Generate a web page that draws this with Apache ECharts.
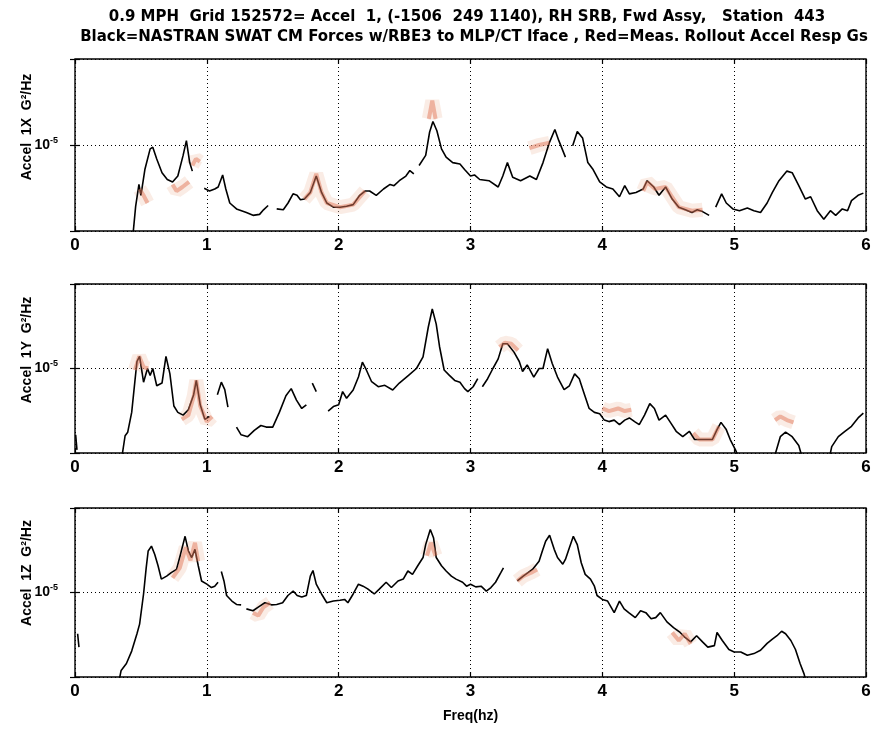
<!DOCTYPE html>
<html><head><meta charset="utf-8">
<script src="https://cdn.jsdelivr.net/npm/echarts@6/dist/echarts.min.js"></script>
<style>html,body{margin:0;padding:0;background:#fff}#c{width:881px;height:729px}</style>
</head><body><div id="c"></div>
<script>
// ---------- text ----------
const titleLine1 = '0.9 MPH  Grid 152572= Accel  1, (-1506  249 1140), RH SRB, Fwd Assy,   Station  443';
const titleLine2 = 'Black=NASTRAN SWAT CM Forces w/RBE3 to MLP/CT Iface , Red=Meas. Rollout Accel Resp Gs';
const panelNames = ['Accel  1X  G\u00b2/Hz', 'Accel  1Y  G\u00b2/Hz', 'Accel  1Z  G\u00b2/Hz'];
const xAxisName = 'Freq(hz)';
const xTicks = [0, 1, 2, 3, 4, 5, 6];
const yLabelTick = 1e-5;

// ---------- data: NASTRAN (black) ----------
const freq1X = [0.43,0.46,0.485,0.50,0.53,0.57,0.59,0.62,0.66,0.70,
  0.74,0.78,0.82,0.845,0.87,0.89,0.93,0.98,1.02,1.06,
  1.086,1.12,1.144,1.174,1.225,1.30,1.35,1.40,1.43,1.465,
  1.49,1.53,1.58,1.616,1.654,1.684,1.71,1.74,1.785,1.83,
  1.87,1.91,1.96,2.01,2.06,2.11,2.16,2.20,2.235,2.285,
  2.34,2.39,2.42,2.46,2.51,2.54,2.57,2.59,2.61,2.66,
  2.69,2.715,2.745,2.78,2.815,2.865,2.92,2.955,3.0,3.03,
  3.07,3.14,3.21,3.245,3.28,3.32,3.38,3.45,3.50,3.55,
  3.60,3.64,3.67,3.72,3.745,3.775,3.81,3.85,3.89,3.93,
  3.98,4.03,4.08,4.13,4.17,4.205,4.255,4.31,4.34,4.39,
  4.43,4.48,4.53,4.58,4.63,4.68,4.72,4.76,4.81,4.835,
  4.86,4.905,4.94,4.99,5.04,5.10,5.15,5.20,5.25,5.29,
  5.34,5.40,5.44,5.49,5.54,5.58,5.63,5.68,5.73,5.77,
  5.82,5.86,5.89,5.94,5.98];
const psd1X = [2.5e-6,4.4e-6,5.9e-6,5.1e-6,7.2e-6,9.5e-6,9.7e-6,8.3e-6,6.9e-6,6.3e-6,
  6.1e-6,6.6e-6,8.7e-6,1.06e-5,7.9e-6,7.05e-6,null,5.6e-6,5.4e-6,5.55e-6,
  5.7e-6,6.7e-6,5.55e-6,4.6e-6,4.25e-6,4.05e-6,3.9e-6,3.95e-6,4.2e-6,4.45e-6,
  null,4.25e-6,4.2e-6,4.6e-6,5.2e-6,5.1e-6,4.8e-6,4.85e-6,5.3e-6,6.6e-6,
  5.3e-6,4.6e-6,4.35e-6,4.35e-6,4.4e-6,4.5e-6,5.1e-6,5.4e-6,5.4e-6,5.1e-6,
  5.55e-6,5.9e-6,5.8e-6,6.2e-6,6.6e-6,7.1e-6,6.8e-6,null,7.6e-6,8.7e-6,
  1.19e-5,1.37e-5,1.21e-5,9.5e-6,8.5e-6,7.9e-6,7.75e-6,7.2e-6,6.6e-6,6.7e-6,
  6.3e-6,6.2e-6,5.7e-6,6.6e-6,7.9e-6,6.5e-6,6.2e-6,6.6e-6,6.3e-6,7.9e-6,
  1.04e-5,1.23e-5,1.06e-5,8.5e-6,null,9.9e-6,1.2e-5,1.1e-5,7.9e-6,7.2e-6,
  6.1e-6,5.7e-6,5.55e-6,5.0e-6,5.8e-6,5.2e-6,5.3e-6,5.55e-6,6.2e-6,5.7e-6,
  5.1e-6,5.7e-6,4.85e-6,4.35e-6,4.2e-6,4.05e-6,4.2e-6,4.1e-6,3.9e-6,null,
  4.35e-6,5.2e-6,4.6e-6,4.25e-6,4.15e-6,4.3e-6,4.15e-6,4.05e-6,4.6e-6,5.3e-6,
  6.2e-6,7.05e-6,6.9e-6,5.8e-6,4.85e-6,5.0e-6,4.15e-6,3.7e-6,4.15e-6,3.9e-6,
  4.25e-6,4.15e-6,4.75e-6,5.1e-6,5.25e-6];

const freq1Y = [0.005,0.015,0.03,0.35,0.38,0.40,0.43,0.455,0.47,0.49,
  0.52,0.55,0.57,0.59,0.62,0.66,0.69,0.72,0.75,0.78,
  0.82,0.86,0.90,0.92,0.95,0.985,1.02,1.04,1.08,1.11,
  1.136,1.16,1.19,1.225,1.26,1.31,1.36,1.41,1.45,1.50,
  1.55,1.60,1.64,1.68,1.72,1.755,1.78,1.80,1.83,1.86,
  1.92,1.96,2.0,2.03,2.06,2.11,2.15,2.18,2.21,2.25,
  2.30,2.35,2.41,2.46,2.53,2.59,2.64,2.68,2.71,2.74,
  2.765,2.80,2.84,2.88,2.92,2.955,2.98,3.02,3.055,3.075,
  3.09,3.13,3.17,3.21,3.245,3.28,3.33,3.37,3.395,3.43,
  3.48,3.52,3.55,3.585,3.62,3.66,3.71,3.75,3.79,3.825,
  3.865,3.90,3.94,3.98,4.015,4.05,4.09,4.13,4.17,4.205,
  4.245,4.28,4.32,4.36,4.395,4.43,4.48,4.52,4.56,4.61,
  4.66,4.70,4.76,4.835,4.87,4.90,4.94,4.97,5.01,5.04,
  5.30,5.35,5.39,5.44,5.49,5.52,5.72,5.74,5.79,5.84,
  5.89,5.94,5.98];
const psd1Y = [4.05e-6,3.3e-6,null,2.8e-6,4.0e-6,4.2e-6,5.5e-6,8.5e-6,1.1e-5,1.18e-5,
  8.3e-6,1.0e-5,9.1e-6,1.0e-5,7.9e-6,8.2e-6,1.18e-5,9.3e-6,6.0e-6,5.5e-6,
  5.3e-6,5.7e-6,7.0e-6,8.5e-6,6.1e-6,5.0e-6,5.2e-6,null,7.0e-6,8.3e-6,
  7.5e-6,5.9e-6,null,4.5e-6,4.05e-6,3.95e-6,4.3e-6,4.6e-6,4.5e-6,4.5e-6,
  5.5e-6,6.9e-6,7.6e-6,6.5e-6,5.8e-6,6.1e-6,null,8.2e-6,7.3e-6,null,
  5.6e-6,5.95e-6,6.1e-6,7.3e-6,6.67e-6,7.46e-6,8.9e-6,1.09e-5,9.8e-6,8.35e-6,
  7.8e-6,7.95e-6,7.46e-6,8.2e-6,9.1e-6,1.0e-5,1.17e-5,1.76e-5,2.25e-5,1.83e-5,
  1.35e-5,9.8e-6,9.1e-6,8.5e-6,8.3e-6,7.6e-6,7.3e-6,7.8e-6,8.7e-6,null,
  7.8e-6,8.7e-6,1.0e-5,1.14e-5,1.4e-5,1.4e-5,1.25e-5,1.1e-5,9.6e-6,1.05e-5,
  8.9e-6,1.0e-5,1.0e-5,1.31e-5,1.07e-5,8.9e-6,7.5e-6,7.9e-6,9.3e-6,8.7e-6,
  7.0e-6,5.8e-6,5.5e-6,5.4e-6,4.95e-6,4.85e-6,4.95e-6,4.65e-6,4.95e-6,5.1e-6,
  4.85e-6,4.65e-6,5.3e-6,6.2e-6,5.8e-6,4.95e-6,5.3e-6,4.75e-6,4.25e-6,3.95e-6,
  4.25e-6,3.8e-6,3.8e-6,3.8e-6,4.35e-6,4.8e-6,4.35e-6,3.8e-6,3.3e-6,2.9e-6,
  2.9e-6,3.95e-6,4.2e-6,3.95e-6,3.5e-6,2.9e-6,2.9e-6,3.45e-6,3.95e-6,4.25e-6,
  4.55e-6,5.1e-6,5.45e-6];

const freq1Z = [0.02,0.03,0.05,0.33,0.35,0.39,0.43,0.47,0.49,0.52,
  0.54,0.555,0.58,0.605,0.63,0.655,0.695,0.73,0.77,0.80,
  0.835,0.86,0.885,0.91,0.935,0.96,1.0,1.035,1.06,1.085,
  1.098,1.11,1.13,1.15,1.19,1.225,1.26,1.28,1.30,1.35,
  1.39,1.44,1.49,1.53,1.575,1.615,1.655,1.685,1.72,1.755,
  1.785,1.805,1.83,1.87,1.91,1.96,2.01,2.045,2.07,2.11,
  2.15,2.185,2.22,2.27,2.31,2.36,2.40,2.45,2.49,2.525,
  2.56,2.60,2.64,2.66,2.695,2.72,2.74,2.78,2.815,2.855,
  2.89,2.94,2.97,3.0,3.04,3.08,3.12,3.155,3.19,3.23,
  3.25,3.30,3.355,3.40,3.47,3.52,3.545,3.57,3.60,3.635,
  3.66,3.70,3.72,3.75,3.78,3.81,3.84,3.87,3.91,3.94,
  3.96,4.0,4.04,4.09,4.13,4.165,4.20,4.25,4.29,4.33,
  4.37,4.405,4.44,4.49,4.54,4.59,4.63,4.67,4.715,4.76,
  4.80,4.85,4.87,4.91,4.96,5.0,5.05,5.10,5.15,5.20,
  5.25,5.29,5.325,5.36,5.39,5.43,5.465,5.50,5.53,5.55];
const psd1Z = [5.7e-6,4.75e-6,null,2.9e-6,3.46e-6,3.8e-6,4.5e-6,5.7e-6,6.5e-6,9.8e-6,
  1.4e-5,1.76e-5,1.88e-5,1.68e-5,1.44e-5,1.2e-5,1.25e-5,1.31e-5,1.37e-5,1.68e-5,
  2.15e-5,1.76e-5,1.61e-5,1.8e-5,1.44e-5,1.17e-5,1.12e-5,1.07e-5,1.09e-5,1.15e-5,
  null,1.33e-5,1.17e-5,9.6e-6,8.9e-6,8.5e-6,8.45e-6,null,8.0e-6,7.8e-6,
  8.2e-6,8.7e-6,8.45e-6,8.5e-6,8.7e-6,9.6e-6,1.02e-5,9.6e-6,9.4e-6,9.6e-6,
  1.25e-5,1.35e-5,1.12e-5,9.8e-6,8.7e-6,8.9e-6,9.0e-6,9.1e-6,8.7e-6,9.8e-6,
  1.12e-5,1.09e-5,1.05e-5,9.8e-6,1.05e-5,1.15e-5,1.07e-5,1.17e-5,1.2e-5,1.34e-5,
  1.28e-5,1.44e-5,1.61e-5,1.92e-5,2.36e-5,2.1e-5,1.61e-5,1.44e-5,1.34e-5,1.25e-5,
  1.2e-5,1.15e-5,1.09e-5,1.12e-5,1.08e-5,1.09e-5,1.02e-5,1.07e-5,1.15e-5,1.31e-5,
  1.4e-5,null,1.17e-5,1.25e-5,1.37e-5,1.53e-5,1.76e-5,2.01e-5,2.18e-5,1.8e-5,
  1.61e-5,1.47e-5,1.57e-5,1.84e-5,2.15e-5,1.92e-5,1.5e-5,1.28e-5,1.2e-5,1.09e-5,
  9.6e-6,9.1e-6,8.9e-6,7.6e-6,8.9e-6,8.0e-6,7.6e-6,7.1e-6,7.8e-6,7.6e-6,
  7.0e-6,7.1e-6,7.6e-6,6.7e-6,6.2e-6,5.8e-6,5.4e-6,5.1e-6,5.55e-6,5.1e-6,
  4.75e-6,4.85e-6,5.8e-6,5.2e-6,4.6e-6,4.45e-6,4.45e-6,4.25e-6,4.35e-6,4.55e-6,
  5.0e-6,5.3e-6,5.55e-6,5.9e-6,5.7e-6,5.2e-6,4.6e-6,3.8e-6,3.3e-6,2.9e-6];

// ---------- data: measured (red) ----------
const redFreq1X = [0.49,0.52,0.55,0.6, 0.74,0.77,0.815,0.865,0.875, 0.89,0.917,0.947,1.0,
  1.74,1.785,1.83,1.87,1.91,2.01,2.11,2.20,2.4, 2.684,2.71,2.735,3.0, 3.447,3.52,3.60,4.0,
  4.31,4.34,4.40,4.48,4.58,4.68,4.76];
const redPsd1X = [5.55e-6,5.1e-6,4.6e-6,null, 5.9e-6,5.4e-6,5.7e-6,6.1e-6,null, 7.6e-6,8.3e-6,8.0e-6,null,
  4.85e-6,5.3e-6,6.8e-6,5.3e-6,4.6e-6,4.35e-6,4.5e-6,5.4e-6,null, 1.42e-5,1.81e-5,1.42e-5,null, 9.6e-6,1.0e-5,1.03e-5,null,
  5.4e-6,6.1e-6,5.55e-6,5.7e-6,4.35e-6,4.15e-6,4.2e-6];
const redFreq1Y = [0.455,0.487,0.52,0.555,0.6, 0.81,0.86,0.90,0.92,0.95,1.0,1.04,2.0,
  3.22,3.26,3.31,3.36,3.8, 4.0,4.05,4.12,4.17,4.22,4.5, 4.69,4.735,4.835,4.885,5.2,
  5.31,5.35,5.40,5.45];
const redPsd1Y = [9.8e-6,1.18e-5,1.02e-5,1.0e-5,null, 5.0e-6,5.3e-6,6.8e-6,8.5e-6,6.0e-6,4.85e-6,5.2e-6,null,
  1.34e-5,1.42e-5,1.4e-5,1.28e-5,null, 5.8e-6,5.6e-6,5.8e-6,5.6e-6,5.7e-6,null, 4.15e-6,3.8e-6,3.8e-6,4.55e-6,null,
  4.95e-6,5.2e-6,4.95e-6,4.8e-6];
const redFreq1Z = [0.74,0.795,0.84,0.876,0.91,0.934,1.2, 1.35,1.39,1.43,1.48,2.0,
  2.67,2.70,2.735,3.0, 3.355,3.40,3.46,3.505,4.0, 4.53,4.58,4.625,4.67];
const redPsd1Z = [1.22e-5,1.4e-5,1.85e-5,1.55e-5,1.97e-5,1.53e-5,null, 7.6e-6,7.3e-6,8.2e-6,8.7e-6,null,
  1.65e-5,1.97e-5,1.65e-5,null, 1.17e-5,1.25e-5,1.31e-5,1.37e-5,null, 5.8e-6,5.2e-6,5.7e-6,4.95e-6];

// ---------- layout ----------
const FONT = 'Liberation Sans, Arial, Helvetica, sans-serif';
const TITLE_FONT = '"DejaVu Sans", "Liberation Sans", sans-serif';
const Y_MIN = 3.1623e-6, Y_MAX = 3.1623e-5;
const gridBoxes = [{top: 59, height: 172}, {top: 284, height: 169}, {top: 508, height: 169}];
const nameY = [127, 350, 573];
const blackSets = [[freq1X, psd1X], [freq1Y, psd1Y], [freq1Z, psd1Z]];
const redSets = [[redFreq1X, redPsd1X], [redFreq1Y, redPsd1Y], [redFreq1Z, redPsd1Z]];
const pairs = (xs, ys) => xs.map((x, i) => [x, ys[i] === null ? null : ys[i]]);

const grid = [], xAxis = [], yAxis = [], series = [], graphic = [];
gridBoxes.forEach((g, i) => {
  grid.push({left: 75, width: 791, top: g.top, height: g.height, show: true,
    borderColor: '#000', borderWidth: 1.4, backgroundColor: 'transparent'});
  xAxis.push({type: 'value', gridIndex: i, min: xTicks[0], max: xTicks[xTicks.length - 1], interval: 1,
    position: 'bottom', axisLine: {show: false},
    axisTick: {show: true, inside: true, length: 5, lineStyle: {color: '#000', width: 1.2}},
    axisLabel: {show: true, margin: 6, color: '#000', fontFamily: FONT, fontWeight: 'bold', fontSize: 17},
    splitLine: {show: true, lineStyle: {color: '#000', width: 1, type: [1, 3]}},
    name: i === 2 ? xAxisName : '', nameLocation: 'middle', nameGap: 32,
    nameTextStyle: {color: '#000', fontFamily: FONT, fontWeight: 'bold', fontSize: 14}});
  yAxis.push({type: 'log', logBase: 10, gridIndex: i, min: Y_MIN, max: Y_MAX, position: 'left',
    axisLine: {show: false},
    axisTick: {show: true, inside: true, length: 5, lineStyle: {color: '#000', width: 1.2}},
    axisLabel: {show: true, margin: 17, color: '#000', fontFamily: FONT,
      formatter: v => Math.abs(Math.log10(v) - Math.log10(yLabelTick)) < 0.01 ? '{b|10}{s|-5}' : '',
      rich: {b: {fontFamily: FONT, fontWeight: 'bold', fontSize: 14, lineHeight: 18},
             s: {fontFamily: FONT, fontWeight: 'bold', fontSize: 9, lineHeight: 10, verticalAlign: 'top'}}},
    splitLine: {show: true, lineStyle: {color: '#000', width: 1, type: [1, 3]}}});
  series.push({type: 'line', xAxisIndex: i, yAxisIndex: i, data: pairs(redSets[i][0], redSets[i][1]),
    showSymbol: false, connectNulls: false, clip: true, animation: false, z: 2, silent: true,
    lineStyle: {color: 'rgba(240,200,180,0.35)', width: 14, cap: 'butt'}});
  series.push({type: 'line', xAxisIndex: i, yAxisIndex: i, data: pairs(blackSets[i][0], blackSets[i][1]),
    showSymbol: false, connectNulls: false, clip: true, animation: false, z: 3,
    lineStyle: {color: '#000', width: 1.6}});
  series.push({type: 'line', xAxisIndex: i, yAxisIndex: i, data: pairs(redSets[i][0], redSets[i][1]),
    showSymbol: false, connectNulls: false, clip: true, animation: false, z: 4,
    lineStyle: {color: 'rgba(226,120,90,0.5)', width: 4}});
  graphic.push({type: 'text', x: 27, y: nameY[i], rotation: Math.PI / 2,
    style: {text: panelNames[i], fill: '#000', font: 'bold 14px ' + FONT, textAlign: 'center', textVerticalAlign: 'middle'}});
});
// top x ticks and right y ticks (box style)
gridBoxes.forEach((g, i) => {
  xAxis.push({type: 'value', gridIndex: i, min: xTicks[0], max: xTicks[xTicks.length - 1], interval: 1, position: 'top',
    axisLine: {show: false}, axisLabel: {show: false}, splitLine: {show: false},
    axisTick: {show: true, inside: true, length: 5, lineStyle: {color: '#000', width: 1.2}}});
  yAxis.push({type: 'log', logBase: 10, gridIndex: i, min: Y_MIN, max: Y_MAX, position: 'right',
    axisLine: {show: false}, axisLabel: {show: false}, splitLine: {show: false},
    axisTick: {show: true, inside: true, length: 5, lineStyle: {color: '#000', width: 1.2}}});
});
graphic.push({type: 'text', x: 467, y: 17, style: {text: titleLine1, fill: '#000', font: 'bold 15px ' + TITLE_FONT, textAlign: 'center', textVerticalAlign: 'middle'}});
graphic.push({type: 'text', x: 474, y: 37, style: {text: titleLine2, fill: '#000', font: 'bold 15px ' + TITLE_FONT, textAlign: 'center', textVerticalAlign: 'middle'}});

const chart = echarts.init(document.getElementById('c'), null, {renderer: 'canvas'});
chart.setOption({backgroundColor: '#fff', animation: false, grid, xAxis, yAxis, series, graphic});
</script></body></html>
